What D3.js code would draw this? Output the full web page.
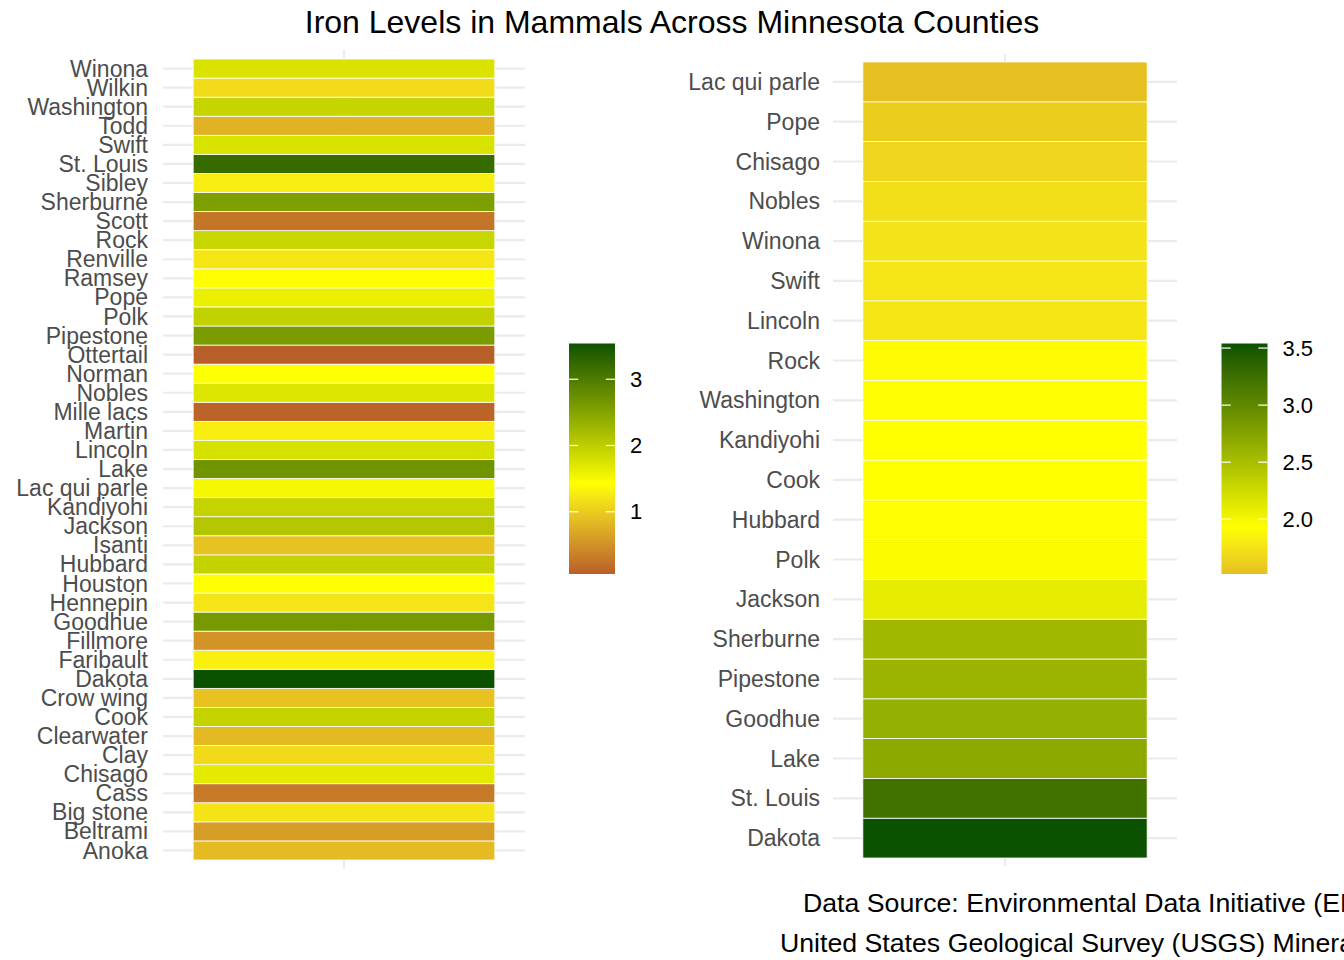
<!DOCTYPE html>
<html>
<head>
<meta charset="utf-8">
<script src="https://cdn.jsdelivr.net/npm/d3@7"></script>
<style>
  html, body { margin: 0; padding: 0; background: #ffffff; }
  svg { display: block; font-family: "Liberation Sans", Arial, Helvetica, sans-serif; }
</style>
</head>
<body>
<svg id="chart" width="1344" height="960"></svg>
<script>
// ---------------- data ----------------
const counties = ["Anoka","Beltrami","Big stone","Cass","Chisago","Clay","Clearwater","Cook","Crow wing","Dakota",
  "Faribault","Fillmore","Goodhue","Hennepin","Houston","Hubbard","Isanti","Jackson","Kandiyohi","Lac qui parle",
  "Lake","Lincoln","Martin","Mille lacs","Nobles","Norman","Ottertail","Pipestone","Polk","Pope",
  "Ramsey","Renville","Rock","Scott","Sherburne","Sibley","St. Louis","Swift","Todd","Washington",
  "Wilkin","Winona"];
const ironLevels = [0.86,0.60,1.20,0.30,1.66,1.12,0.85,1.935,0.92,3.54,
  1.31,0.52,2.64,1.21,1.43,1.94,0.93,2.09,1.93,1.52,
  2.70,1.78,1.29,0.10,1.72,1.44,0.06,2.60,1.96,1.61,
  1.42,1.22,1.91,0.25,2.56,1.28,3.22,1.76,0.78,1.92,
  1.13,1.75];
const leftLegendTicks = [1, 2, 3];
const rightLegendTicks = [2.0, 2.5, 3.0, 3.5];
const topN = 20;
const titleText = "Iron Levels in Mammals Across Minnesota Counties";
const captionLines = ["Data Source: Environmental Data Initiative (EDI)",
                      "United States Geological Survey (USGS) Mineral Resources Program"];

// ---------------- styles ----------------
const lowCol = d3.lab(25.5, 61.3, 21.4);
const midCol = "#FFFF00";
const highCol = "#0A5200";
const gridCol = "#EBEBEB";
const axisTextCol = "#4D4D4D";

const rows = counties.map((c, i) => ({ county: c, value: ironLevels[i] }));

function makeColor(values) {
  const mid = d3.median(values);
  const [mn, mx] = d3.extent(values);
  const d = Math.max(mx - mid, mid - mn);
  const toLow = d3.interpolateLab(midCol, lowCol);
  const toHigh = d3.interpolateLab(midCol, highCol);
  return v => {
    const t = (v - mid) / d;
    return t >= 0 ? toHigh(Math.min(1, t)) : toLow(Math.min(1, -t));
  };
}

const svg = d3.select("#chart");
const defs = svg.append("defs");

function drawPanel(data, order, cfg) {
  const g = svg.append("g");
  const y = d3.scaleBand().domain(order).range([cfg.top, cfg.bottom]).padding(0);
  const x = d3.scaleBand().domain(["iron"]).range([cfg.gridLeft, cfg.gridRight]).paddingOuter(cfg.xPad).paddingInner(0);
  const color = makeColor(data.map(d => d.value));

  // horizontal gridlines
  g.append("g").selectAll("line").data(order).join("line")
    .attr("x1", cfg.gridLeft).attr("x2", cfg.gridRight)
    .attr("y1", d => y(d) + y.bandwidth() / 2).attr("y2", d => y(d) + y.bandwidth() / 2)
    .attr("stroke", gridCol).attr("stroke-width", 2.2);
  // vertical gridline
  g.append("line")
    .attr("x1", x("iron") + x.bandwidth() / 2).attr("x2", x("iron") + x.bandwidth() / 2)
    .attr("y1", cfg.top - cfg.vExt).attr("y2", cfg.bottom + cfg.vExt)
    .attr("stroke", gridCol).attr("stroke-width", 2);

  // tiles
  g.append("g").selectAll("rect").data(data).join("rect")
    .attr("x", x("iron")).attr("width", x.bandwidth())
    .attr("y", d => y(d.county)).attr("height", y.bandwidth())
    .attr("fill", d => color(d.value))
    .attr("stroke", "#ffffff").attr("stroke-width", 0.8);

  // axis labels
  const axis = d3.axisLeft(y).tickSize(0).tickPadding(0);
  const ag = g.append("g").attr("transform", `translate(${cfg.labelX},0)`).call(axis);
  ag.select(".domain").remove();
  ag.selectAll("text").attr("font-size", 23).attr("fill", axisTextCol)
    .attr("font-family", "'Liberation Sans', Arial, sans-serif").attr("dy", "0.35em");

  // legend
  const [mn, mx] = d3.extent(data, d => d.value);
  const ly = d3.scaleLinear().domain([mn, mx]).range([cfg.legBottom, cfg.legTop]);
  const gid = "grad" + cfg.id;
  const grad = defs.append("linearGradient").attr("id", gid)
    .attr("x1", 0).attr("y1", 1).attr("x2", 0).attr("y2", 0);
  d3.range(0, 101).forEach(i => {
    const f = i / 100;
    grad.append("stop").attr("offset", f).attr("stop-color", color(mn + f * (mx - mn)));
  });
  const lg = svg.append("g");
  lg.append("rect").attr("x", cfg.legX).attr("width", cfg.legW)
    .attr("y", cfg.legTop).attr("height", cfg.legBottom - cfg.legTop)
    .attr("fill", `url(#${gid})`);
  const tk = lg.selectAll("g.tick").data(cfg.ticks).join("g");
  tk.append("line").attr("x1", cfg.legX).attr("x2", cfg.legX + cfg.legW / 5)
    .attr("y1", d => ly(d)).attr("y2", d => ly(d)).attr("stroke", "#ffffff").attr("stroke-width", 1.2);
  tk.append("line").attr("x1", cfg.legX + cfg.legW * 4 / 5).attr("x2", cfg.legX + cfg.legW)
    .attr("y1", d => ly(d)).attr("y2", d => ly(d)).attr("stroke", "#ffffff").attr("stroke-width", 1.2);
  tk.append("text").attr("x", cfg.legX + cfg.legW + 15).attr("y", d => ly(d)).attr("dy", "0.35em")
    .attr("font-size", 22).attr("fill", "#000")
    .text(d => d3.format(cfg.fmt)(d));
}

// left panel: all counties, alphabetical from bottom
const leftOrder = counties.slice().sort(d3.ascending).reverse();
drawPanel(rows, leftOrder, {
  id: "L", top: 59, bottom: 860, gridLeft: 163, gridRight: 525, xPad: 0.1,
  vExt: 9, labelX: 148,
  legX: 569, legW: 46, legTop: 343.5, legBottom: 574, ticks: leftLegendTicks, fmt: "d"
});

// right panel: top N counties, highest at bottom
const topRows = rows.slice().sort((a, b) => d3.descending(a.value, b.value)).slice(0, topN);
const rightOrder = topRows.slice().sort((a, b) => d3.ascending(a.value, b.value)).map(d => d.county);
drawPanel(topRows, rightOrder, {
  id: "R", top: 62, bottom: 858, gridLeft: 833, gridRight: 1177, xPad: 0.105,
  vExt: 8, labelX: 820,
  legX: 1221.5, legW: 46, legTop: 343.5, legBottom: 574, ticks: rightLegendTicks, fmt: ".1f"
});

// title
svg.append("text").attr("x", 672).attr("y", 33).attr("text-anchor", "middle")
  .attr("font-size", 32).attr("fill", "#000").text(titleText);

// caption
svg.append("text").attr("x", 803).attr("y", 912).attr("font-size", 26.7).attr("fill", "#000").text(captionLines[0]);
svg.append("text").attr("x", 780).attr("y", 952).attr("font-size", 26.7).attr("fill", "#000").text(captionLines[1]);
</script>
</body>
</html>
